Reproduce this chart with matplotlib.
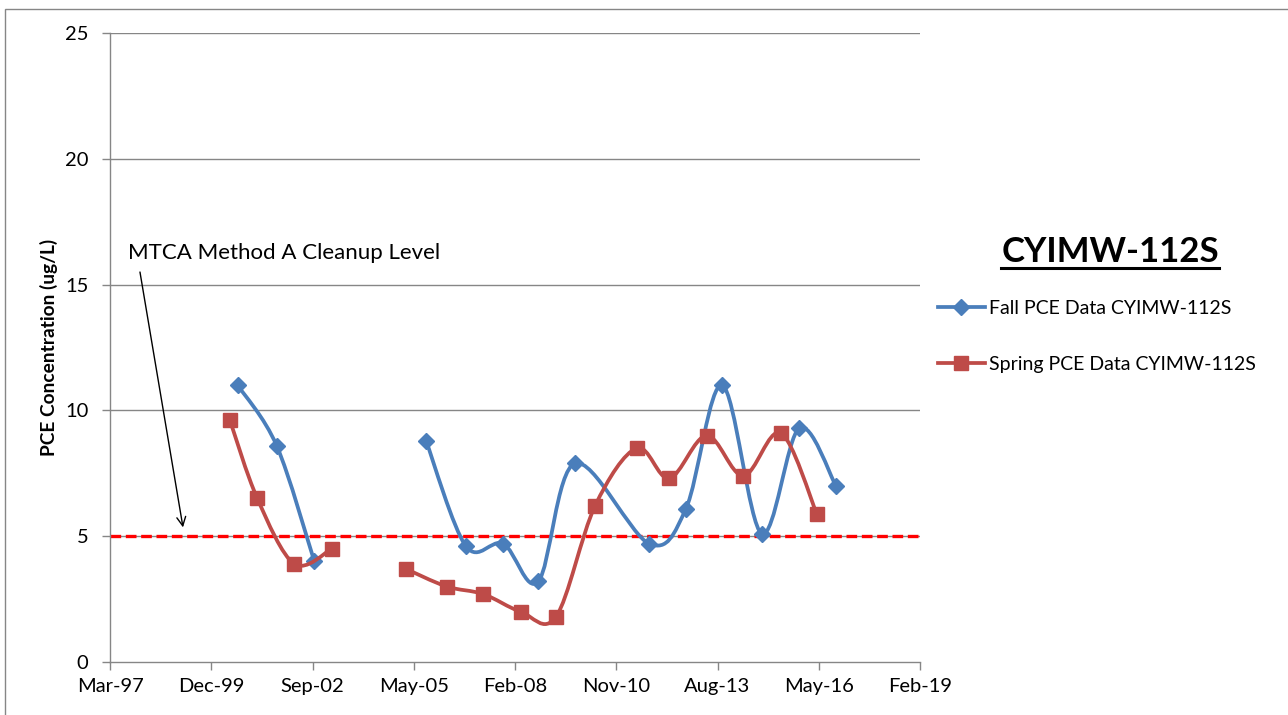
import numpy as np
import pandas as pd
import matplotlib
matplotlib.use("Agg")
import matplotlib.pyplot as plt
import matplotlib.dates as mdates
from matplotlib.path import Path
from matplotlib.patches import PathPatch, Rectangle
from matplotlib.lines import Line2D

# ---- data ----
fall_dates = ["2000-08-24", "2001-09-13", "2002-09-20", "2004-03-15",
              "2005-09-27", "2006-10-27", "2007-10-30", "2008-10-10",
              "2009-10-08", "2011-10-11", "2012-10-08", "2013-10-01",
              "2014-10-26", "2015-11-01", "2016-10-28"]
fall_pce = [11.0, 8.6, 4.0, np.nan,
            8.8, 4.6, 4.7, 3.2,
            7.9, 4.7, 6.1, 11.0,
            5.1, 9.3, 7.0]

spring_dates = ["2000-06-09", "2001-03-06", "2002-03-06", "2003-03-11",
                "2004-03-15", "2005-03-13", "2006-04-19", "2007-04-16",
                "2008-04-19", "2009-04-03", "2010-04-23", "2011-06-09",
                "2012-04-26", "2013-04-30", "2014-04-27", "2015-05-01",
                "2016-04-21"]
spring_pce = [9.6, 6.5, 3.9, 4.5,
              np.nan, 3.7, 3.0, 2.7,
              2.0, 1.8, 6.2, 8.5,
              7.3, 9.0, 7.4, 9.1,
              5.9]

cleanup_level = 5
y_ticks = [0, 5, 10, 15, 20, 25]
axis_start = pd.Timestamp("1997-03-12")
tick_step_days = 1000

fall_label = "Fall PCE Data CYIMW-112S"
spring_label = "Spring PCE Data CYIMW-112S"
well_name = "CYIMW-112S"

BLUE = "#4A7EBB"
RED = "#BE4B48"
GRID = "#868686"
FONT = "Lato"

plt.rcParams["font.family"] = [FONT, "DejaVu Sans"]


def smooth_path(xs, ys):
    # Excel-like smoothed line: bezier segments, split at empty cells
    verts, codes = [], []
    pts = np.column_stack([xs, ys])
    segs, cur = [], []
    for p in pts:
        if np.isnan(p[1]):
            if cur:
                segs.append(np.array(cur))
            cur = []
        else:
            cur.append(p)
    if cur:
        segs.append(np.array(cur))
    for P in segs:
        n = len(P)
        verts.append(P[0])
        codes.append(Path.MOVETO)
        for i in range(n - 1):
            p0 = P[i - 1] if i > 0 else P[i]
            p1 = P[i]
            p2 = P[i + 1]
            p3 = P[i + 2] if i + 2 < n else P[i + 1]
            verts += [p1 + (p2 - p0) / 6.0, p2 - (p3 - p1) / 6.0, p2]
            codes += [Path.CURVE4] * 3
    return Path(verts, codes)


fig = plt.figure(figsize=(12.88, 7.15), dpi=100)
ax = fig.add_axes([110 / 1288, 53 / 715, 810 / 1288, 629 / 715])

# outer chart border
fig.add_artist(Rectangle((5 / 1288, -0.05), 1.1, 1 - 9 / 715 + 0.05,
                         transform=fig.transFigure, fill=False,
                         ec=GRID, lw=1.0))

fx = mdates.date2num(pd.to_datetime(fall_dates))
sx = mdates.date2num(pd.to_datetime(spring_dates))
fy = np.array(fall_pce, dtype=float)
sy = np.array(spring_pce, dtype=float)

x0 = mdates.date2num(axis_start)
x1 = x0 + 8 * tick_step_days

# gridlines
for yv in y_ticks[1:]:
    ax.axhline(yv, color=GRID, lw=1.0, zorder=1)

# cleanup level
ax.axhline(cleanup_level, color="#FF0000", lw=2.4, dashes=(3.2, 1.4), zorder=2)

ax.add_patch(PathPatch(smooth_path(fx, fy), fill=False, ec=BLUE, lw=2.7,
                       capstyle="round", joinstyle="round", zorder=3))
ax.plot(fx, fy, ls="none", marker="D", ms=8.5, color=BLUE, mec=BLUE, zorder=4)

ax.add_patch(PathPatch(smooth_path(sx, sy), fill=False, ec=RED, lw=2.7,
                       capstyle="round", joinstyle="round", zorder=5))
ax.plot(sx, sy, ls="none", marker="s", ms=10.5, color=RED, mec=RED, zorder=6)

ax.set_xlim(x0, x1)
ax.set_ylim(0, 25)
ax.set_yticks(y_ticks)
ax.set_xticks([x0 + k * tick_step_days for k in range(9)])
ax.xaxis.set_major_formatter(mdates.DateFormatter("%b-%y"))

for s in ["top", "right"]:
    ax.spines[s].set_visible(False)
for s in ["left", "bottom"]:
    ax.spines[s].set_color(GRID)
    ax.spines[s].set_linewidth(1.0)
ax.tick_params(axis="both", colors=GRID, labelcolor="black", labelsize=14.5,
               length=5.5, width=1.0, direction="out")
ax.tick_params(axis="y", pad=10)
ax.tick_params(axis="x", pad=6)

ax.set_ylabel("PCE Concentration (ug/L)", fontsize=13.8, fontweight="bold",
              labelpad=5)

# annotation with arrow
ax.annotate("", xy=(mdates.date2num(pd.Timestamp("1999-03-03")), 5.35),
            xytext=(mdates.date2num(pd.Timestamp("1998-01-02")), 15.5),
            arrowprops=dict(arrowstyle="->", color="black", lw=1.0,
                            mutation_scale=16, shrinkA=0, shrinkB=0))
ax.text(mdates.date2num(pd.Timestamp("1997-09-05")), 16.0,
        "MTCA Method A Cleanup Level", fontsize=16, ha="left",
        va="baseline")

# legend title (underlined)
title = fig.text(1110 / 1288, 1 - 262 / 715, well_name, fontsize=25,
                 fontweight="bold", ha="center", va="baseline")

handles = [
    Line2D([], [], color=BLUE, lw=2.7, marker="D", ms=8.5),
    Line2D([], [], color=RED, lw=2.7, marker="s", ms=10.5),
]
fig.legend(handles, [fall_label, spring_label], loc="upper left",
           bbox_to_anchor=(938 / 1288, 1 - 300 / 715), frameon=False,
           fontsize=14, labelspacing=2.0, handlelength=2.4,
           handletextpad=0.2, borderpad=0, borderaxespad=0)

fig.canvas.draw()
bb = title.get_window_extent().transformed(fig.transFigure.inverted())
fig.add_artist(Line2D([bb.x0, bb.x1], [1 - 268 / 715] * 2,
                      transform=fig.transFigure, color="black", lw=2.2))

fig.savefig("out.png", dpi=100)
